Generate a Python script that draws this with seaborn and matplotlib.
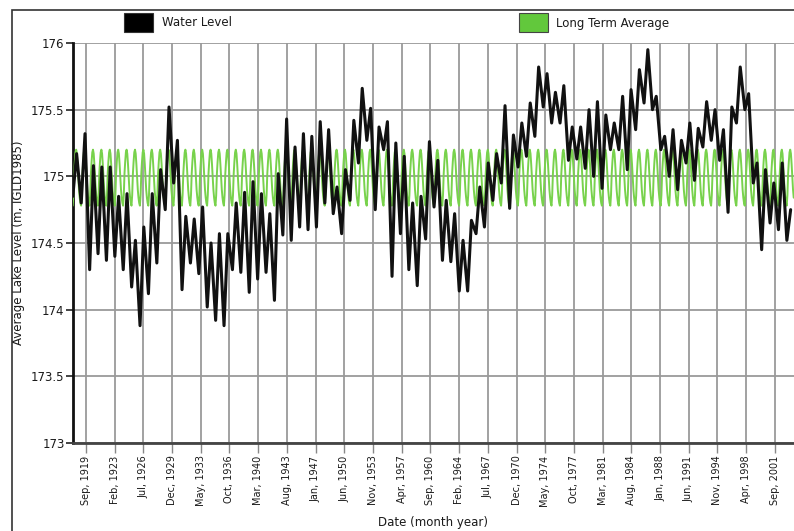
import numpy as np
import pandas as pd
import matplotlib
matplotlib.use("Agg")
import matplotlib.pyplot as plt
from matplotlib.patches import Rectangle
import seaborn as sns

# Yearly winter low and summer high of the monthly lake level (m, IGLD1985)
years = list(range(1918, 2004))
winter_low = [
    174.85, 174.80, 174.30, 174.42, 174.37, 174.40, 174.30, 174.17, 173.88, 174.12,
    174.35, 174.75, 174.95, 174.15, 174.35, 174.27, 174.02, 173.92, 173.88, 174.30,
    174.28, 174.13, 174.23, 174.28, 174.07, 174.56, 174.52, 174.62, 174.60, 174.62,
    174.80, 174.72, 174.57, 174.82, 175.10, 175.27, 174.75, 175.20, 174.25, 174.57,
    174.30, 174.18, 174.53, 174.77, 174.37, 174.36, 174.14, 174.14, 174.57, 174.62,
    174.82, 174.95, 174.76, 175.07, 175.15, 175.30, 175.52, 175.40, 175.40, 175.12,
    175.13, 175.06, 175.00, 174.91, 175.20, 175.20, 175.05, 175.35, 175.55, 175.50,
    175.20, 175.00, 174.90, 175.10, 174.97, 175.22, 175.27, 175.12, 174.73, 175.40,
    175.50, 174.95, 174.45, 174.65, 174.60, 174.52,
]
summer_high = [
    175.17, 175.32, 175.08, 175.07, 175.07, 174.85, 174.87, 174.52, 174.62, 174.87,
    175.05, 175.52, 175.27, 174.70, 174.68, 174.77, 174.50, 174.57, 174.57, 174.80,
    174.88, 174.96, 174.87, 174.72, 175.02, 175.43, 175.22, 175.32, 175.30, 175.41,
    175.35, 174.92, 175.05, 175.42, 175.66, 175.51, 175.37, 175.41, 175.25, 175.15,
    174.80, 174.85, 175.26, 175.12, 174.82, 174.72, 174.52, 174.67, 174.92, 175.10,
    175.17, 175.53, 175.31, 175.40, 175.55, 175.82, 175.77, 175.63, 175.68, 175.37,
    175.37, 175.50, 175.56, 175.46, 175.40, 175.60, 175.65, 175.80, 175.95, 175.60,
    175.30, 175.35, 175.27, 175.40, 175.36, 175.56, 175.50, 175.35, 175.52, 175.82,
    175.62, 175.10, 175.05, 174.95, 175.10, 174.75,
]

# Long-term average level for each calendar month (Jan..Dec)
month_names = ["Jan", "Feb", "Mar", "Apr", "May", "Jun",
               "Jul", "Aug", "Sep", "Oct", "Nov", "Dec"]
monthly_average = [174.80, 174.78, 174.86, 175.02, 175.11, 175.18,
                   175.20, 175.17, 175.09, 174.99, 174.90, 174.84]

tick_labels = [
    "Sep, 1919", "Feb, 1923", "Jul, 1926", "Dec, 1929", "May, 1933",
    "Oct, 1936", "Mar, 1940", "Aug, 1943", "Jan, 1947", "Jun, 1950",
    "Nov, 1953", "Apr, 1957", "Sep, 1960", "Feb, 1964", "Jul, 1967",
    "Dec, 1970", "May, 1974", "Oct, 1977", "Mar, 1981", "Aug, 1984",
    "Jan, 1988", "Jun, 1991", "Nov, 1994", "Apr, 1998", "Sep, 2001",
]
y_ticks = [173, 173.5, 174, 174.5, 175, 175.5, 176]
y_tick_labels = ["173", "173.5", "174", "174.5", "175", "175.5", "176"]


def decimal_date(label):
    mon, yr = label.split(", ")
    return int(yr) + month_names.index(mon) / 12.0


# Water level series: winter low then summer high for each year
level_t, level_v = [], []
for y, lo, hi in zip(years, winter_low, summer_high):
    level_t += [y + 0.1, y + 0.55]
    level_v += [lo, hi]
level = pd.DataFrame({"t": level_t, "level": level_v})

# Long-term average repeated for each year of record
avg_t, avg_v = [], []
for y in years:
    for m, v in enumerate(monthly_average):
        avg_t.append(y + m / 12.0)
        avg_v.append(v)
average = pd.DataFrame({"t": avg_t, "level": avg_v})

sns.set_theme(style="white")
plt.rcParams["font.family"] = ["DejaVu Sans"]
text_color = "#1a1a1a"

fig = plt.figure(figsize=(7.94, 5.31), dpi=100)
ax = fig.add_axes([73 / 794, 1 - 443 / 531, 1 - 73 / 794, 400 / 531])

sns.lineplot(data=average, x="t", y="level", ax=ax, color="#78d24c",
             linewidth=1.4, estimator=None, zorder=3)
sns.lineplot(data=level, x="t", y="level", ax=ax, color="#111111",
             linewidth=2.2, estimator=None, zorder=4)

ax.set_xlim(1918.12, 2003.95)
ax.set_ylim(173, 176)

tick_pos = [decimal_date(s) for s in tick_labels]
ax.set_xticks(tick_pos)
ax.set_xticklabels(tick_labels, rotation=90, fontsize=7, color=text_color)
ax.set_yticks(y_ticks)
ax.set_yticklabels(y_tick_labels, fontsize=8.5, color=text_color)

ax.grid(True, axis="both", color="#9a9a9a", linewidth=1.3, zorder=0)
ax.set_axisbelow(True)
ax.tick_params(axis="x", length=7, width=1, color="#888888", pad=2,
               direction="out", bottom=True)
ax.tick_params(axis="y", length=5, width=1.2, color="#222222", pad=1, left=True)

for side in ["top", "right"]:
    ax.spines[side].set_visible(False)
ax.spines["left"].set_color("#111111")
ax.spines["left"].set_linewidth(2)
ax.spines["bottom"].set_color("#444444")
ax.spines["bottom"].set_linewidth(2)

ax.set_xlabel("Date (month year)", fontsize=8.5, color=text_color, labelpad=7)
ax.set_ylabel("Average Lake Level (m, IGLD1985)", fontsize=8.5,
              color=text_color)
ax.yaxis.set_label_coords(-0.066, 0.5)

# Outer frame
fig.add_artist(Rectangle((12 / 794, -0.05), 1.2, 1.05 - 10 / 531,
                         transform=fig.transFigure, fill=False,
                         edgecolor="#333333", linewidth=1.2))

# Legend swatches above the plot
fig.add_artist(Rectangle((124 / 794, 1 - 32 / 531), 29 / 794, 19 / 531,
                         transform=fig.transFigure, facecolor="#000000",
                         edgecolor="#333333", linewidth=0.8))
fig.text(162 / 794, 1 - 23 / 531, "Water Level", fontsize=8.5, va="center",
         color=text_color)
fig.add_artist(Rectangle((519 / 794, 1 - 32 / 531), 29 / 794, 19 / 531,
                         transform=fig.transFigure, facecolor="#62c83c",
                         edgecolor="#444444", linewidth=0.8))
fig.text(556 / 794, 1 - 23 / 531, "Long Term Average", fontsize=8.5,
         va="center", color=text_color)

fig.savefig("out.png", dpi=100)
